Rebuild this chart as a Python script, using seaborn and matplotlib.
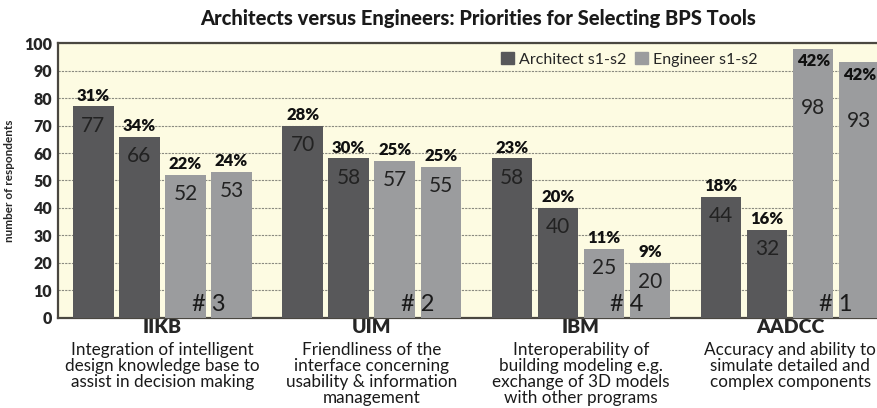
import numpy as np
import pandas as pd
import seaborn as sns
import matplotlib.pyplot as plt
from matplotlib.patches import Patch

# Values
categories = ["IIKB", "UIM", "IBM", "AADCC"]
descriptions = [
    "Integration of intelligent\ndesign knowledge base to\nassist in decision making",
    "Friendliness of the\ninterface concerning\nusability & information\nmanagement",
    "Interoperability of\nbuilding modeling e.g.\nexchange of 3D models\nwith other programs",
    "Accuracy and ability to\nsimulate detailed and\ncomplex components",
]
series = ["Architect s1", "Architect s2", "Engineer s1", "Engineer s2"]
architect_s1 = [77, 70, 58, 44]
architect_s2 = [66, 58, 40, 32]
engineer_s1 = [52, 57, 25, 98]
engineer_s2 = [53, 55, 20, 93]
architect_s1_pct = [31, 28, 23, 18]
architect_s2_pct = [34, 30, 20, 16]
engineer_s1_pct = [22, 25, 11, 42]
engineer_s2_pct = [24, 25, 9, 42]
ranks = [3, 2, 4, 1]

values = [architect_s1, architect_s2, engineer_s1, engineer_s2]
pcts = [architect_s1_pct, architect_s2_pct, engineer_s1_pct, engineer_s2_pct]

df = pd.DataFrame({
    "category": np.repeat([categories], 4, axis=0).ravel(),
    "series": np.repeat(series, len(categories)),
    "count": np.concatenate(values),
})

dark = "#58585a"
light = "#9b9c9e"
bg = "#fdfbe2"

sns.set_style("white")
plt.rcParams["font.family"] = ["Lato", "DejaVu Sans"]

fig = plt.figure(figsize=(8.77, 4.08), dpi=100)
ax = fig.add_axes([0.066, 0.2206, 0.94, 0.674])
ax.set_facecolor(bg)

sns.barplot(data=df, x="category", y="count", hue="series", order=categories,
            hue_order=series, palette=[dark, dark, light, light],
            width=0.88, gap=0.12, saturation=1, legend=False, ax=ax,
            edgecolor="none", zorder=3)

ax.set_ylim(0, 100)
ax.set_xlim(-0.5, 3.44)
ax.set_yticks(range(0, 101, 10))
ax.yaxis.grid(True, color="#8a8a80", linestyle=(0, (2, 1)), linewidth=0.8, zorder=0)
ax.set_axisbelow(True)
for s in ["left", "bottom", "top"]:
    ax.spines[s].set_color("#4a4740")
    ax.spines[s].set_linewidth(1.6)
ax.spines["right"].set_visible(False)
ax.tick_params(axis="y", length=0, pad=4, labelsize=11.5)
ax.tick_params(axis="x", length=0, pad=1)
ax.set_xticks(range(len(categories)))
ax.set_xticklabels(categories)
for t in ax.get_yticklabels():
    t.set_fontweight("heavy")
for t in ax.get_xticklabels():
    t.set_fontweight("heavy")
    t.set_fontsize(14)
ax.set_xlabel("")
ax.set_ylabel("number of respondents", fontsize=8.5, fontweight="bold", labelpad=7)

for i, desc in enumerate(descriptions):
    ax.text(i, -0.088, desc, transform=ax.get_xaxis_transform(), ha="center",
            va="top", fontsize=12.3, linespacing=1.0, color="#1a1a1a")

# bar labels
for cont, pc in zip(ax.containers, pcts):
    for bar, p in zip(cont, pc):
        x = bar.get_x() + bar.get_width() / 2
        h = bar.get_height()
        if h > 90:
            ax.text(x, h - 4.5, f"{p}%", ha="center", va="center", fontsize=12,
                    fontweight="heavy", color="#111", zorder=5)
            ax.text(x, h - 21.5, f"{int(h)}", ha="center", va="center",
                    fontsize=15, color="#222", zorder=5)
        else:
            ax.text(x, h + 1.0, f"{p}%", ha="center", va="bottom", fontsize=12,
                    fontweight="heavy", color="#111", zorder=5)
            ax.text(x, h - 7.0, f"{int(h)}", ha="center", va="center",
                    fontsize=15, color="#222", zorder=5)

# rank marks
for i, r in enumerate(ranks):
    b3 = ax.containers[2][i]
    b4 = ax.containers[3][i]
    xg = (b3.get_x() + b3.get_width() + b4.get_x()) / 2
    ax.text(xg, 4.8, f"# {r}", ha="center", va="center", fontsize=17,
            color="#1a1a1a", zorder=5)

handles = [Patch(color=dark), Patch(color=light)]
ax.legend(handles, ["Architect s1-s2", "Engineer s1-s2"], loc="upper left",
          bbox_to_anchor=(0.52, 1.02), ncol=2, frameon=False, fontsize=11.5,
          handlelength=0.8, handleheight=0.8, handletextpad=0.3,
          columnspacing=0.6)

fig.text(0.545, 0.955, "Architects versus Engineers: Priorities for Selecting BPS Tools",
         ha="center", va="center", fontsize=14.5, fontweight="black", color="#1a1a1a")

fig.savefig("out.png", dpi=100, facecolor="white")
